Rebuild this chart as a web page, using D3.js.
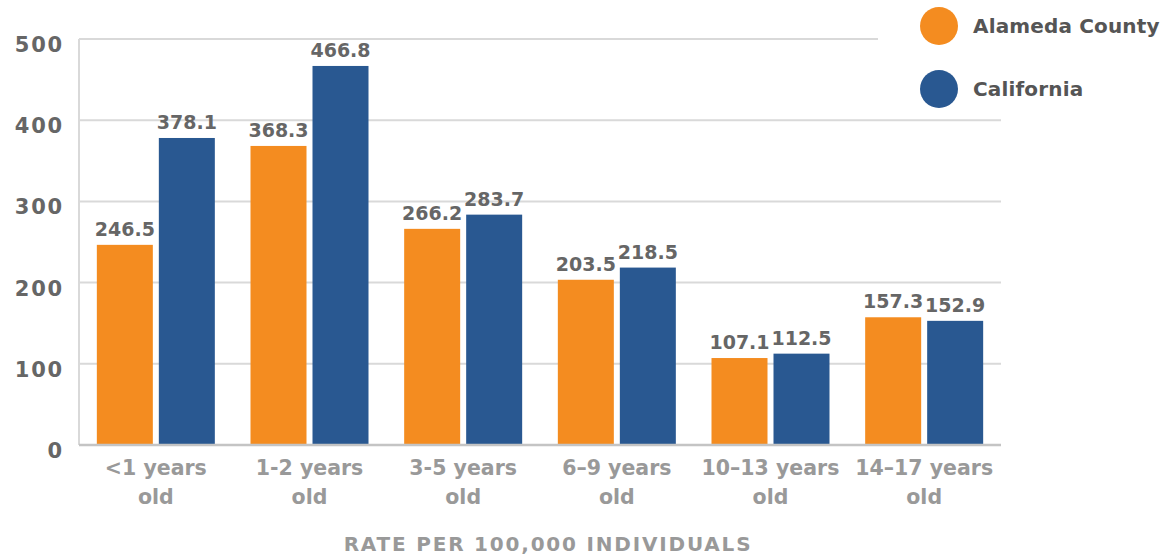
<!DOCTYPE html>
<html><head><meta charset="utf-8">
<script src="https://cdn.jsdelivr.net/npm/d3@7"></script>
<style>body{margin:0;background:#fff;} text{font-family:"DejaVu Sans",sans-serif;font-weight:bold;}</style>
</head><body><svg id="c" width="1164" height="557"></svg>
<script>
const categories = ["<1 years old","1-2 years old","3-5 years old","6\u20139 years old","10\u201313 years old","14\u201317 years old"];
const catLines = [["<1 years","old"],["1-2 years","old"],["3-5 years","old"],["6\u20139 years","old"],["10\u201313 years","old"],["14\u201317 years","old"]];
const alameda = [246.5,368.3,266.2,203.5,107.1,157.3];
const california = [378.1,466.8,283.7,218.5,112.5,152.9];
const seriesNames = ["Alameda County","California"];
const colors = ["#F48C20","#295891"];
const yTicks = [0,100,200,300,400,500];
const axisTitle = "RATE PER 100,000 INDIVIDUALS";

const svg = d3.select("#c");
const x = d3.scaleBand().domain(categories).range([79,1001]).padding(0);
const y = d3.scaleLinear().domain([0,500]).range([445,39]);

// gridlines
svg.append("g").selectAll("line").data(yTicks.filter(d=>d>0)).join("line")
  .attr("x1",79).attr("x2",d=>d===500?878:1001)
  .attr("y1",d=>y(d)).attr("y2",d=>y(d))
  .attr("stroke","#d9d9d9").attr("stroke-width",2);
// y axis line
svg.append("line").attr("x1",79).attr("x2",79).attr("y1",y(500)).attr("y2",y(0))
  .attr("stroke","#d9d9d9").attr("stroke-width",2);

// y labels
svg.append("g").selectAll("text").data(yTicks).join("text")
  .attr("x",64).attr("y",d=>y(d)+13).attr("text-anchor","end")
  .attr("font-size",21).attr("letter-spacing",1.8).attr("fill","#666").text(d=>d);

const series = [alameda, california];
const bw = 56, gap = 6;
series.forEach((vals,si)=>{
  const g = svg.append("g");
  const xpos = (c)=> x(c)+x.bandwidth()/2 + (si===0 ? -(bw+gap/2) : gap/2);
  g.selectAll("rect").data(categories).join("rect")
    .attr("x",(c)=>xpos(c)).attr("width",bw)
    .attr("y",(c,i)=>y(vals[i])).attr("height",(c,i)=>y(0)-y(vals[i]))
    .attr("fill",colors[si]);
  g.selectAll("text").data(categories).join("text")
    .attr("x",(c)=>xpos(c)+bw/2).attr("y",(c,i)=>y(vals[i])-9)
    .attr("text-anchor","middle").attr("font-size",19).attr("fill","#666")
    .text((c,i)=>vals[i].toFixed(1));
});

// baseline
svg.append("line").attr("x1",79).attr("x2",1001).attr("y1",y(0)).attr("y2",y(0))
  .attr("stroke","#c4c4c4").attr("stroke-width",2.5);

// x labels
const xl = svg.append("g").selectAll("text").data(categories).join("text")
  .attr("text-anchor","middle").attr("font-size",20.5).attr("fill","#999");
xl.each(function(c,i){
  const t = d3.select(this);
  catLines[i].forEach((ln,k)=>{
    t.append("tspan").attr("x",x(c)+x.bandwidth()/2).attr("y",475+k*29).text(ln);
  });
});

svg.append("text").attr("x",548).attr("y",551).attr("text-anchor","middle")
  .attr("font-size",20).attr("letter-spacing",1.8).attr("fill","#999").text(axisTitle);

// legend
const leg = svg.append("g").selectAll("g").data(seriesNames).join("g")
  .attr("transform",(d,i)=>`translate(939,${26+i*63})`);
leg.append("circle").attr("r",19).attr("fill",(d,i)=>colors[i]);
leg.append("text").attr("x",34).attr("y",7).attr("font-size",20).attr("letter-spacing",0.15).attr("fill","#555").text(d=>d);
</script></body></html>
